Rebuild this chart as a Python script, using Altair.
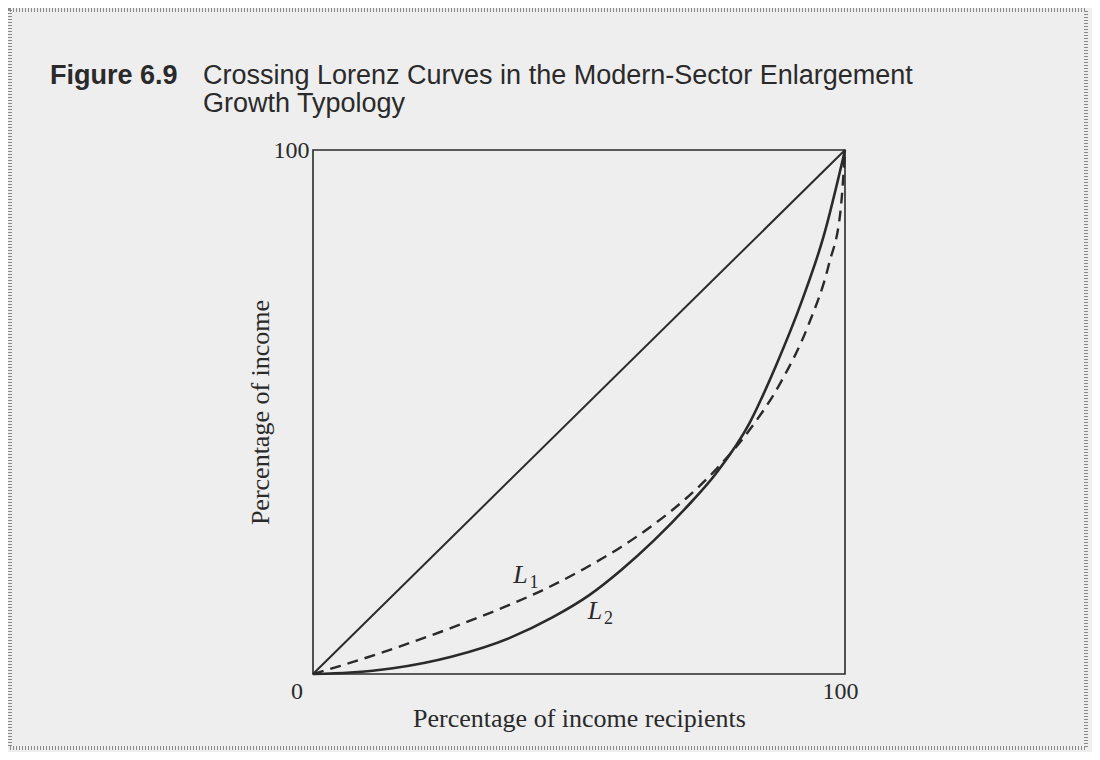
import altair as alt
import pandas as pd

# ---- data (percent of recipients, percent of income) ----
diag_x = [0, 100]
diag_y = [0, 100]

l1_x = [0, 5, 15, 26, 36, 44, 51, 58, 64, 70, 76, 82, 88, 93, 97, 99.2, 100]
l1_y = [0, 1.5, 4.8, 8.8, 12.8, 16.4, 20.1, 24.3, 28.5, 33.4, 39.3, 46.5, 55.8, 66.3, 78.3, 88.8, 100]

l2_x = [0, 7, 15, 26, 37, 45, 52, 58, 64, 70, 76, 82, 87, 92, 96, 100]
l2_y = [0, 0.28, 1.1, 3.3, 6.9, 10.8, 15.1, 19.9, 25.4, 31.6, 38.6, 47.8, 58.8, 71.5, 83.6, 100]

curve_labels = ["L", "L"]
curve_subs = ["1", "2"]
curve_label_x = [39.0, 53.0]
curve_label_y = [18.8, 12.0]

title_bold = "Figure 6.9"
title_lines = ["Crossing Lorenz Curves in the Modern-Sector Enlargement", "Growth Typology"]
x_title = "Percentage of income recipients"
y_title = "Percentage of income"

SERIF = "Liberation Serif"
SANS = "Liberation Sans"
INK = "#2a2a2a"
BG = "#eeeeee"

diag = pd.DataFrame({"x": diag_x, "y": diag_y})
l1 = pd.DataFrame({"x": l1_x, "y": l1_y})
l2 = pd.DataFrame({"x": l2_x, "y": l2_y})
labs = pd.DataFrame({"t": curve_labels, "s": curve_subs, "x": curve_label_x, "y": curve_label_y})
zero = pd.DataFrame({"x": [0], "y": [0], "t": ["0"]})

xscale = alt.Scale(domain=[0, 100], nice=False, zero=False)
yscale = alt.Scale(domain=[0, 100], nice=False, zero=False)

xaxis = alt.Axis(values=[100], grid=False, ticks=False, domain=False, labelFlush=False,
                 labelOffset=-5,
                 labelFont=SERIF, labelFontSize=24, labelColor=INK, labelPadding=5,
                 title=x_title, titleFont=SERIF, titleFontSize=26, titleFontWeight="normal",
                 titleColor=INK, titlePadding=2)
yaxis = alt.Axis(values=[100], grid=False, ticks=False, domain=False, labelFlush=False,
                 labelFont=SERIF, labelFontSize=24, labelColor=INK, labelPadding=4,
                 title=y_title, titleFont=SERIF, titleFontSize=26, titleFontWeight="normal",
                 titleColor=INK, titlePadding=0)

base_x = alt.X("x:Q", scale=xscale, axis=xaxis)
base_y = alt.Y("y:Q", scale=yscale, axis=yaxis)

diag_line = alt.Chart(diag).mark_line(color=INK, strokeWidth=2).encode(x=base_x, y=base_y)
l2_line = alt.Chart(l2).mark_line(color=INK, strokeWidth=2.6, interpolate="monotone").encode(
    x=alt.X("x:Q", scale=xscale), y=alt.Y("y:Q", scale=yscale))
l1_line = alt.Chart(l1).mark_line(color=INK, strokeWidth=2.4, strokeDash=[11, 7],
                                  interpolate="monotone").encode(
    x=alt.X("x:Q", scale=xscale), y=alt.Y("y:Q", scale=yscale))

lab_main = alt.Chart(labs).mark_text(font=SERIF, fontSize=26, fontStyle="italic", color=INK,
                                     align="center", baseline="middle").encode(
    x=alt.X("x:Q", scale=xscale), y=alt.Y("y:Q", scale=yscale), text="t:N")
lab_sub = alt.Chart(labs).mark_text(font=SERIF, fontSize=18, color=INK, align="left",
                                    baseline="middle", dx=9, dy=8).encode(
    x=alt.X("x:Q", scale=xscale), y=alt.Y("y:Q", scale=yscale), text="s:N")

zero_lab = alt.Chart(zero).mark_text(font=SERIF, fontSize=24, color=INK, align="center",
                                     baseline="top", dx=-16, dy=6).encode(
    x=alt.X("x:Q", scale=xscale), y=alt.Y("y:Q", scale=yscale), text="t:N")

tb = alt.Chart(pd.DataFrame({"t": [title_bold]})).mark_text(
    font=SANS, fontSize=27, fontWeight="bold", color=INK, align="left", baseline="alphabetic"
).encode(x=alt.value(-263), y=alt.value(-66), text="t:N")
t1 = alt.Chart(pd.DataFrame({"t": [title_lines[0]]})).mark_text(
    font=SANS, fontSize=27, color=INK, align="left", baseline="alphabetic"
).encode(x=alt.value(-110), y=alt.value(-66), text="t:N")
t2 = alt.Chart(pd.DataFrame({"t": [title_lines[1]]})).mark_text(
    font=SANS, fontSize=27, color=INK, align="left", baseline="alphabetic"
).encode(x=alt.value(-110), y=alt.value(-38), text="t:N")

border = alt.Chart(pd.DataFrame({"a": [0]})).mark_rect(
    fill=None, stroke="#8a8a8a", strokeWidth=4, strokeDash=[1, 2]
).encode(x=alt.value(-303), x2=alt.value(773), y=alt.value(-140), y2=alt.value(598))

chart = alt.layer(diag_line, l2_line, l1_line, lab_main, lab_sub, zero_lab, tb, t1, t2, border).properties(
    width=532, height=524,
    autosize=alt.AutoSizeParams(type="none"),
    padding={"left": 305, "top": 142, "right": 247, "bottom": 78},
    background=BG,
).configure_view(stroke=INK, strokeWidth=1.6, fill=BG)

chart.save("out.html", embed_options={"renderer": "svg", "actions": False})
